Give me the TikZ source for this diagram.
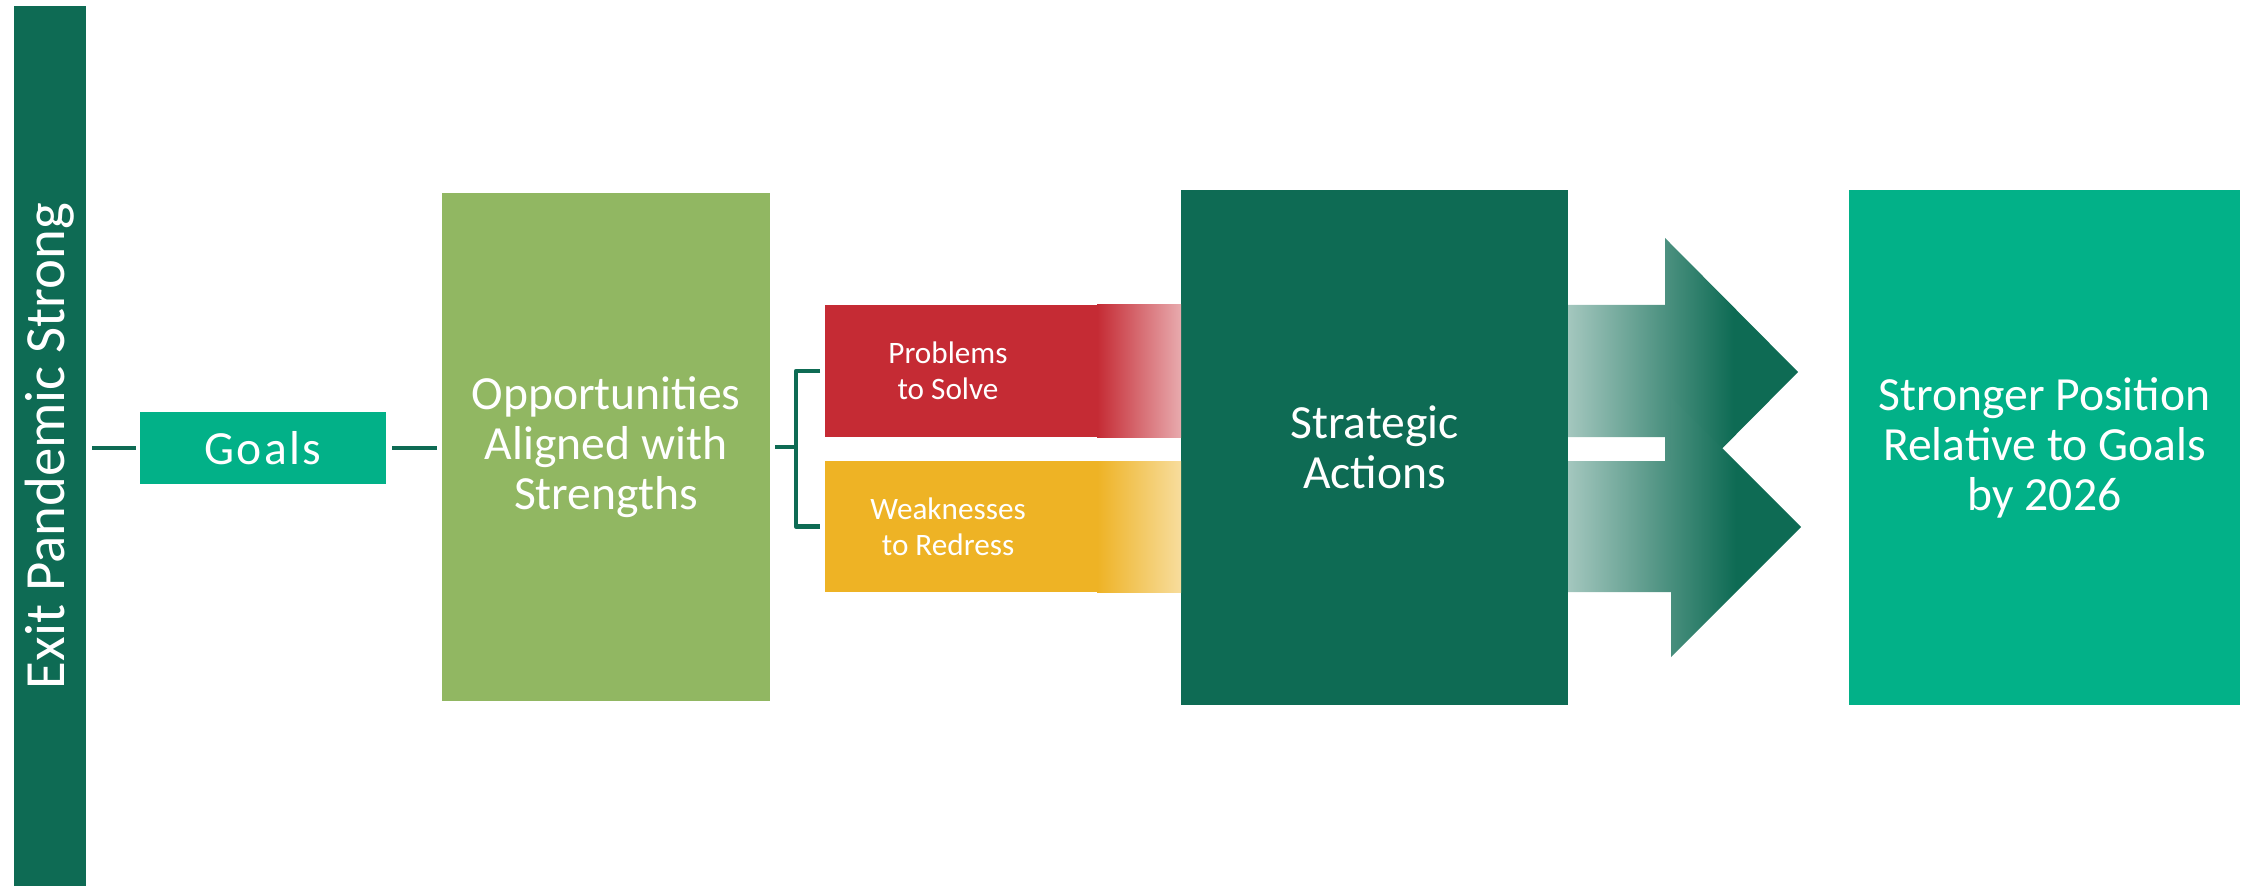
\documentclass[tikz,border=0pt]{standalone}
\usepackage{fontspec}
\setmainfont{Carlito}
\usetikzlibrary{calc}

\definecolor{deepgreen}{RGB}{14,107,84}
\definecolor{goalteal}{RGB}{2,177,136}
\definecolor{oppgreen}{RGB}{145,183,98}
\definecolor{probred}{RGB}{197,43,52}
\definecolor{weakgold}{RGB}{238,179,37}

% pale-to-dark fade used by the two big arrows
\pgfdeclarehorizontalshading{arrowfade}{100bp}{%
  color(0bp)=(deepgreen!38); color(25bp)=(deepgreen!38);
  color(61bp)=(deepgreen); color(100bp)=(deepgreen)}

\newcommand{\pxu}{0.25pt}

\begin{document}
\begin{tikzpicture}[x=0.25pt,y=-0.25pt,
  box/.style={inner sep=0pt, outer sep=0pt, text=white, align=center},
  bigtext/.style={font=\fontsize{11.9pt}{12.5pt}\selectfont},
  smalltext/.style={text=white, align=center, inner sep=0pt,
    font=\fontsize{7.8pt}{9pt}\selectfont},
  conn/.style={draw=deepgreen, line width=1.1pt},
  fadebox/.style 2 args={inner sep=0pt, outer sep=0pt,
    path picture={
      \fill[#1] (path picture bounding box.south west)
        rectangle ([xshift=-83*\pxu]path picture bounding box.north east);
      \shade[left color=#1, right color=#1!#2]
        ([xshift=-84*\pxu]path picture bounding box.south east)
        rectangle (path picture bounding box.north east);
    }},
]
\useasboundingbox (0,0) rectangle (2244,886);

% vertical banner
\node[box, fill=deepgreen, minimum width=72*\pxu, minimum height=880*\pxu] (bar) at (50,446) {};
\node[rotate=90, text=white, inner sep=0pt,
  font=\fontsize{14.2pt}{16pt}\selectfont] (barlabel) at (bar) {Exit Pandemic Strong};

% main boxes
\node[box, fill=goalteal, minimum width=246*\pxu, minimum height=72*\pxu,
  font=\fontsize{11.9pt}{12.5pt}\selectfont\addfontfeature{LetterSpace=5}] (goals) at (263,448) {Goals};
\node[box, bigtext, fill=oppgreen, minimum width=328*\pxu, minimum height=508*\pxu] (opp) at (606,447)
  {Opportunities\\Aligned with\\Strengths};
\node[box, bigtext, fill=deepgreen, minimum width=387*\pxu, minimum height=515*\pxu] (strat) at (1374.5,447.5)
  {Strategic\\Actions};
\node[box, bigtext, fill=goalteal, minimum width=391*\pxu, minimum height=515*\pxu] (final) at (2044.5,447.5)
  {Stronger Position\\Relative to Goals\\by 2026};

% fading bands feeding into the strategic actions
\node[fadebox={probred}{40}, minimum width=356*\pxu, minimum height=132*\pxu] (prob) at (1003,371) {};
\node[fadebox={weakgold}{45}, minimum width=356*\pxu, minimum height=131*\pxu] (weak) at (1003,526.5) {};
\node[smalltext] (problabel) at ($(prob.west)+(123,0)$) {Problems\\to Solve};
\node[smalltext] (weaklabel) at ($(weak.west)+(123,0)$) {Weaknesses\\to Redress};

% connectors
\draw[conn, shorten <=6*\pxu, shorten >=4*\pxu] (goals.west -| bar.east) -- (goals.west);
\draw[conn, shorten <=6*\pxu, shorten >=5*\pxu] (goals.east) -- (goals.east -| opp.west);
\coordinate (fork) at ($(prob.west)!0.5!(weak.west)+(-29,0)$);
\draw[conn, shorten <=5*\pxu] (opp.east) -- (opp.east -| fork);
\draw[conn, line join=round, shorten <=5*\pxu, shorten >=5*\pxu]
  (prob.west) -| (fork) |- (weak.west);

% two broad arrows toward the result
\shade[shading=arrowfade]
  (strat.east |- prob.north) -- (1665,305) -- (1665,238) -- (1798,372)
  -- (1665,506) -- (1665,437) -- (strat.east |- prob.south) -- cycle;
\shade[shading=arrowfade]
  (strat.east |- weak.north) -- (1671,461) -- (1671,397) -- (1801,527)
  -- (1671,657) -- (1671,592) -- (strat.east |- weak.south) -- cycle;
\end{tikzpicture}
\end{document}
